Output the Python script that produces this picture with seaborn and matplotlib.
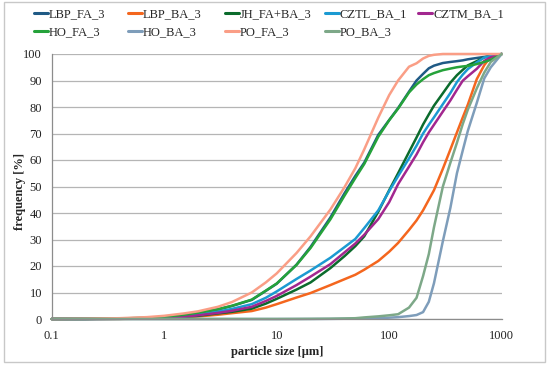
import numpy as np
import pandas as pd
import matplotlib
matplotlib.use("Agg")
import matplotlib.pyplot as plt
import seaborn as sns
from matplotlib.patches import Rectangle
from matplotlib.ticker import FixedLocator, FixedFormatter, LogLocator, NullFormatter

# ---------------- data ----------------
sizes = [0.1, 0.2, 0.4, 0.7, 1, 1.5, 2, 3, 4, 6, 8, 10, 15, 20, 30, 40, 50, 60, 80,
         100, 120, 150, 175, 200, 225, 250, 300, 350, 400, 450, 500, 600, 700, 800, 1000]

LBP_FA_3 = [0, 0.05, 0.2, 0.4, 0.7, 1.5, 2.3, 3.6, 4.9, 7.2, 10.6, 13.3, 20.5, 27.2, 38.3,
            47.4, 54.0, 59.0, 69.5, 75.1, 79.6, 85.8, 90.0, 92.5, 94.6, 95.6, 96.6, 97.0,
            97.3, 97.6, 98.0, 98.5, 98.9, 99.3, 100]
LBP_BA_3 = [0, 0.01, 0.05, 0.15, 0.35, 0.65, 0.95, 1.6, 2.2, 3.0, 4.3, 5.6, 8.1, 9.8, 12.8,
            15.0, 16.7, 18.6, 21.9, 25.4, 28.7, 33.6, 37.2, 41.0, 45.0, 48.6, 56.7, 64.0,
            70.4, 76.0, 80.9, 90.5, 95.8, 99.0, 100]
JH_FA_BA_3 = [0, 0.02, 0.07, 0.2, 0.4, 0.8, 1.2, 2.1, 2.7, 3.9, 5.8, 7.6, 11.1, 13.8, 19.2,
              23.7, 27.5, 31.2, 40.5, 48.6, 55.0, 63.0, 68.5, 73.4, 77.2, 80.5, 85.2, 89.2,
              92.0, 94.0, 95.7, 97.3, 98.7, 99.3, 100]
CZTL_BA_1 = [0, 0.03, 0.1, 0.3, 0.55, 1.1, 1.6, 2.8, 3.8, 5.6, 8.0, 10.4, 15.1, 18.3, 23.1,
             27.1, 30.2, 34.3, 41.0, 48.3, 53.9, 60.6, 65.4, 70.0, 73.3, 76.1, 81.1, 85.3,
             89.4, 92.2, 94.3, 96.8, 98.7, 99.2, 100]
CZTM_BA_1 = [0, 0.02, 0.08, 0.25, 0.45, 0.9, 1.4, 2.3, 3.1, 4.6, 6.8, 8.7, 12.8, 16.0, 20.7,
             25.1, 28.5, 31.8, 37.7, 44.1, 50.9, 57.5, 62.1, 66.7, 70.4, 73.3, 78.3, 82.5,
             86.5, 89.9, 91.6, 94.4, 97.4, 98.8, 100]
HO_FA_3 = [0, 0.05, 0.2, 0.45, 0.8, 1.6, 2.4, 3.7, 5.0, 7.3, 10.7, 13.4, 20.4, 26.8, 37.6,
           46.5, 53.2, 58.5, 68.8, 75.0, 79.4, 85.5, 88.5, 90.5, 92.0, 92.8, 93.9, 94.5,
           95.0, 95.3, 95.5, 96.2, 97.0, 97.8, 100]
HO_BA_3 = [0, 0, 0, 0, 0, 0, 0, 0, 0, 0, 0, 0, 0.01, 0.02, 0.05, 0.1, 0.15, 0.2, 0.3,
           0.5, 0.7, 1.1, 1.5, 2.6, 6.5, 13.5, 29.4, 42.0, 55.0, 63.5, 71.0, 81.5, 90.8,
           95.0, 100]
PO_FA_3 = [0, 0.1, 0.3, 0.7, 1.2, 2.1, 2.9, 4.6, 6.4, 10.0, 13.8, 17.2, 24.9, 31.2, 41.3,
           49.7, 56.9, 64.0, 76.0, 84.5, 90.0, 95.2, 96.5, 98.3, 99.3, 99.7, 100, 100,
           100, 100, 100, 100, 100, 100, 100]
PO_BA_3 = [0, 0, 0, 0, 0, 0, 0, 0, 0, 0, 0, 0, 0.02, 0.05, 0.1, 0.2, 0.3, 0.6, 1.0,
           1.4, 1.8, 4.3, 8.0, 16.2, 24.5, 34.6, 50.0, 59.0, 66.5, 73.5, 79.0, 87.0, 93.0,
           97.0, 100]

series_names = ["LBP_FA_3", "LBP_BA_3", "JH_FA+BA_3", "CZTL_BA_1", "CZTM_BA_1",
                "HO_FA_3", "HO_BA_3", "PO_FA_3", "PO_BA_3"]
series_values = [LBP_FA_3, LBP_BA_3, JH_FA_BA_3, CZTL_BA_1, CZTM_BA_1,
                 HO_FA_3, HO_BA_3, PO_FA_3, PO_BA_3]
series_colors = ["#1F5A85", "#F4661E", "#0B6B2C", "#1B9AD2", "#A2278F",
                 "#25A23A", "#7E9DBA", "#FA9E86", "#7DA888"]

x_tick_values = [0.1, 1, 10, 100, 1000]
x_tick_labels = ["0.1", "1", "10", "100", "1000"]
y_tick_values = list(range(0, 101, 10))

# ---------------- build long table ----------------
df = pd.concat(
    [pd.DataFrame({"size": sizes, "frequency": vals, "series": name})
     for name, vals in zip(series_names, series_values)],
    ignore_index=True)
palette = dict(zip(series_names, series_colors))

# ---------------- figure ----------------
sns.set_style("white")
plt.rcParams["font.family"] = ["Liberation Serif", "DejaVu Serif"]
FS = 9
plt.rcParams["font.size"] = FS

W, H = 550, 369
fig = plt.figure(figsize=(W / 100, H / 100), dpi=100)
fig.patches.append(Rectangle((4 / W, 1 - 362 / H), 541 / W, 360 / H,
                             transform=fig.transFigure, fill=False,
                             edgecolor="#c8c8c8", linewidth=1.0))

ax = fig.add_axes([51.7 / W, 1 - 319 / H, 450 / W, 265 / H])
sns.lineplot(data=df, x="size", y="frequency", hue="series", hue_order=series_names,
             palette=palette, linewidth=1.8, legend=False, ax=ax,
             estimator=None, sort=False, clip_on=False)

ax.set_xscale("log")
ax.set_xlim(0.1, 1000)
ax.set_ylim(0, 100)

ax.xaxis.set_major_locator(FixedLocator(x_tick_values))
ax.xaxis.set_major_formatter(FixedFormatter(x_tick_labels))
ax.xaxis.set_minor_locator(LogLocator(base=10, subs=np.arange(2, 10)))
ax.xaxis.set_minor_formatter(NullFormatter())
ax.yaxis.set_major_locator(FixedLocator(y_tick_values))

ax.grid(axis="y", color="#b5b5b5", linewidth=0.9)
ax.set_axisbelow(True)
for s in ["top", "right"]:
    ax.spines[s].set_visible(False)
for s in ["left", "bottom"]:
    ax.spines[s].set_color("#8c8c8c")
    ax.spines[s].set_linewidth(0.9)

ax.tick_params(axis="x", which="major", direction="out", length=4, width=0.8,
               color="#8c8c8c", labelsize=FS, pad=4, labelcolor="#222222")
ax.tick_params(axis="x", which="minor", direction="out", length=3, width=0.7,
               color="#8c8c8c")
ax.tick_params(axis="y", which="major", direction="out", length=4, width=0.8,
               color="#8c8c8c", labelsize=FS, pad=3, labelcolor="#222222")

ax.set_xlabel("particle size [\u03bcm]", fontsize=FS, fontweight="bold", labelpad=3)
ax.set_ylabel("frequency [%]", fontsize=FS, fontweight="bold")
ax.yaxis.set_label_coords((26 - 51.7) / 450, 0.48)

# ---------------- legend (5 columns, 2 rows) ----------------
lines = {name: ln for name, ln in zip(series_names, ax.get_lines())}
columns = [["LBP_FA_3", "HO_FA_3"], ["LBP_BA_3", "HO_BA_3"], ["JH_FA+BA_3", "PO_FA_3"],
           ["CZTL_BA_1", "PO_BA_3"], ["CZTM_BA_1"]]
col_x = [34, 128, 225, 325, 418]
for cx, col in zip(col_x, columns):
    leg = fig.legend([lines[n] for n in col], col, loc="upper left",
                     bbox_to_anchor=(cx / W, 1 - 8 / H), frameon=False, fontsize=FS,
                     handlelength=1.1, handletextpad=0.1, labelspacing=0.5,
                     borderpad=0, borderaxespad=0)
    for h in leg.legend_handles:
        h.set_linewidth(2.2)

fig.savefig("out.png", dpi=100)
